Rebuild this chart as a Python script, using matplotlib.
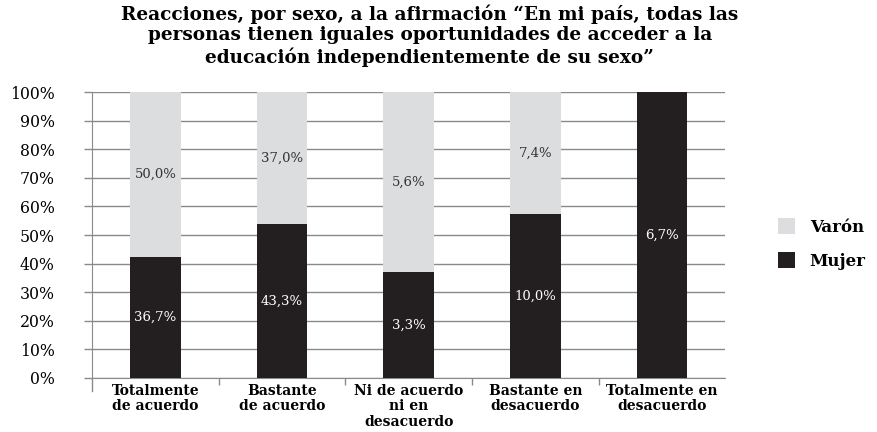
import matplotlib.pyplot as plt
import numpy as np

# percentages within each sex
categories = ["Totalmente\nde acuerdo", "Bastante\nde acuerdo", "Ni de acuerdo\nni en\ndesacuerdo",
              "Bastante en\ndesacuerdo", "Totalmente en\ndesacuerdo"]
mujer = [36.7, 43.3, 3.3, 10.0, 6.7]
varon = [50.0, 37.0, 5.6, 7.4, 0.0]

title = ("Reacciones, por sexo, a la afirmación “En mi país, todas las\n"
         "personas tienen iguales oportunidades de acceder a la\n"
         "educación independientemente de su sexo”")

MUJER_COLOR = "#231f20"
VARON_COLOR = "#dcdddf"
GRID_COLOR = "#8a8a8a"
SERIF = "DejaVu Serif"


def fmt_pct(v):
    return f"{v:.1f}%".replace(".", ",")


def main():
    m = np.array(mujer)
    v = np.array(varon)
    total = m + v
    m_share = m / total * 100
    v_share = v / total * 100
    x = np.arange(len(categories))

    fig = plt.figure(figsize=(8.77, 4.32), dpi=100)
    ax = fig.add_axes([0.105, 0.125, 0.722, 0.662])

    ax.bar(x, m_share, width=0.4, color=MUJER_COLOR, zorder=3, label="Mujer")
    ax.bar(x, v_share, width=0.4, bottom=m_share, color=VARON_COLOR, zorder=3, label="Varón")

    for i in range(len(x)):
        if m[i] > 0:
            ax.text(x[i], m_share[i] / 2, fmt_pct(m[i]), ha="center", va="center",
                    color="white", fontsize=9.5, family=SERIF, zorder=4)
        if v[i] > 0:
            ax.text(x[i], m_share[i] + v_share[i] / 2, fmt_pct(v[i]), ha="center", va="center",
                    color="#333333", fontsize=9.5, family=SERIF, zorder=4)

    ax.set_xlim(-0.5, len(x) - 0.5)
    ax.set_ylim(0, 100)
    ax.set_yticks(np.arange(0, 101, 10))
    ax.set_yticklabels([f"{t}%" for t in range(0, 101, 10)], family=SERIF, fontsize=11.3)
    ax.yaxis.grid(True, color=GRID_COLOR, linewidth=1, zorder=0)
    ax.tick_params(axis="y", length=6, width=1, color=GRID_COLOR, pad=21)

    ax.set_xticks(x)
    ax.set_xticklabels(categories, family=SERIF, fontsize=10, fontweight="bold", linespacing=1.15)
    ax.tick_params(axis="x", length=0, pad=4)
    ax.set_xticks(np.arange(0.5, len(x) - 0.5, 1), minor=True)
    ax.tick_params(axis="x", which="minor", length=5, width=1, color=GRID_COLOR)

    for side in ("top", "right"):
        ax.spines[side].set_visible(False)
    ax.spines["left"].set_color(GRID_COLOR)
    ax.spines["bottom"].set_color(GRID_COLOR)
    # left axis line runs a little below zero
    ax.plot([0, 0], [0, -0.045], transform=ax.transAxes, color=GRID_COLOR,
            linewidth=1, clip_on=False)

    handles, labels = ax.get_legend_handles_labels()
    fig.legend(handles[::-1], labels[::-1], loc="center left", bbox_to_anchor=(0.87, 0.435),
               frameon=False, handlelength=1.0, handleheight=1.1, handletextpad=0.9,
               labelspacing=0.95, prop={"family": SERIF, "weight": "bold", "size": 12})

    fig.text(0.49, 0.99, title, ha="center", va="top", family=SERIF, fontweight="bold",
             fontsize=13.3, linespacing=1.18)

    fig.savefig("out.png", dpi=100)


if __name__ == "__main__":
    main()
